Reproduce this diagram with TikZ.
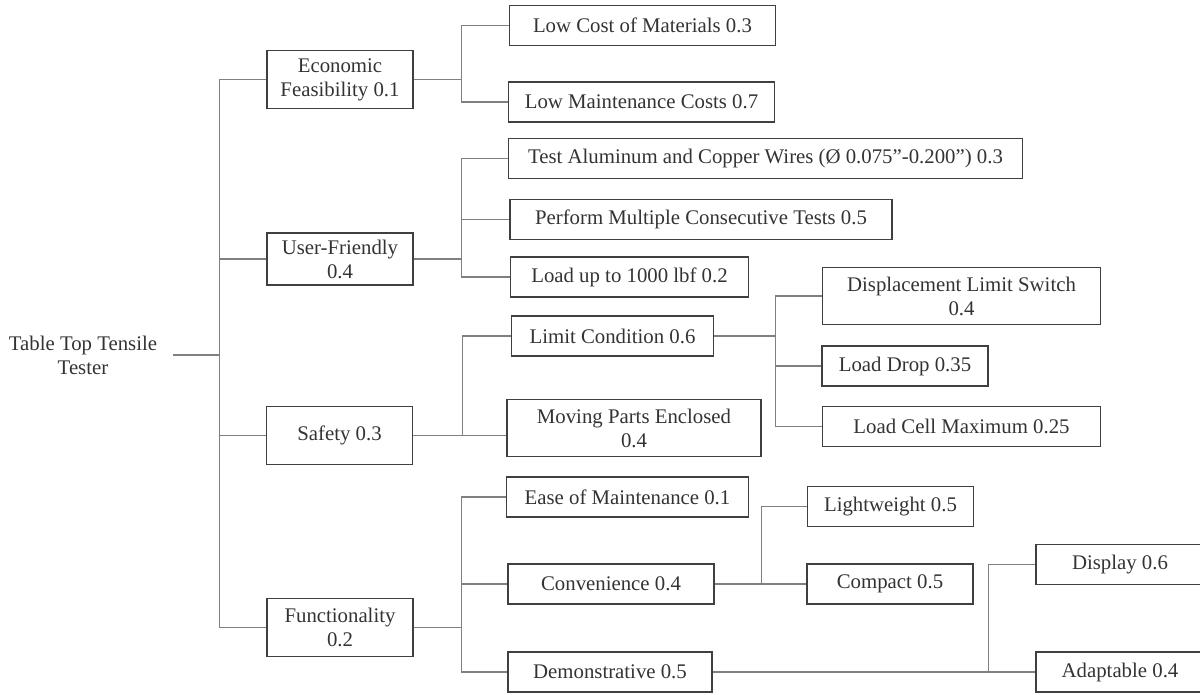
\documentclass[tikz,border=0pt]{standalone}
\usepackage{fontspec}
\setmainfont{Liberation Serif}
\usepackage{tikz}

\begin{document}
\begin{tikzpicture}[x=0.75pt, y=-0.75pt,
    every node/.style={font=\fontsize{15.6}{18}\selectfont, text=black!80},
    box/.style={draw=black!75, line width=0.9pt, minimum height=30pt, inner sep=0pt, align=center},
    tall/.style={box, minimum height=43pt},
    link/.style={draw=black!50, line width=0.9pt}]
    \useasboundingbox (0,0) rectangle (1200,694);
    \node [align=center, inner xsep=12pt] (root) at (83,355) {Table Top Tensile\\Tester};
    % first level
    \node [tall, minimum width=109.5pt] (econ) at (340,79.5) {Economic\\Feasibility 0.1};
    \node [tall, minimum width=109.5pt, minimum height=39pt] (user) at (340,259) {User-Friendly\\0.4};
    \node [tall, minimum width=110pt] (safety) at (339.5,435.5) {Safety 0.3};
    \node [tall, minimum width=109.5pt, minimum height=44pt] (func) at (340,627.5) {Functionality\\0.2};
    % second level
    \node [box, minimum width=200pt] (lowcost) at (642.5,25.5) {Low Cost of Materials 0.3};
    \node [box, minimum width=200pt] (lowmaint) at (641.5,102) {Low Maintenance Costs 0.7};
    \node [box, minimum width=386pt] (wires) at (765.5,158.5) {Test Aluminum and Copper Wires (Ø 0.075”-0.200”) 0.3};
    \node [box, minimum width=286.5pt] (tests) at (701,219.5) {Perform Multiple Consecutive Tests 0.5};
    \node [box, minimum width=179pt] (load) at (629.5,277) {Load up to 1000 lbf 0.2};
    \node [box, minimum width=152pt] (limit) at (612.5,336) {Limit Condition 0.6};
    \node [tall, minimum width=190.5pt] (moving) at (634,428) {Moving Parts Enclosed\\0.4};
    \node [box, minimum width=182pt] (ease) at (627.5,497) {Ease of Maintenance 0.1};
    \node [box, minimum width=154.5pt] (conv) at (611,584) {Convenience 0.4};
    \node [box, minimum width=153pt] (demo) at (610,672) {Demonstrative 0.5};
    % third level
    \node [tall, minimum width=209pt] (disp) at (961.5,296) {Displacement Limit Switch\\0.4};
    \node [box, minimum width=124.5pt] (drop) at (905,366) {Load Drop 0.35};
    \node [box, minimum width=209pt] (cell) at (961.5,426.5) {Load Cell Maximum 0.25};
    \node [box, minimum width=124pt] (light) at (890.5,506.5) {Lightweight 0.5};
    \node [box, minimum width=124.5pt] (compact) at (890,584) {Compact 0.5};
    \node [box, minimum width=126pt] (display) at (1120,564.5) {Display 0.6};
    \node [box, minimum width=126pt] (adapt) at (1120,672) {Adaptable 0.4};
    % connectors
    \draw [link] (root.east) -- ++(46,0) |- (econ.west);
    \draw [link] (root.east) -- ++(46,0) |- (user.west);
    \draw [link] (root.east) -- ++(46,0) |- (safety.west);
    \draw [link] (root.east) -- ++(46,0) |- (func.west);
    \draw [link] (econ.east) -- ++(48,0) |- (lowcost.west);
    \draw [link] (econ.east) -- ++(48,0) |- (lowmaint.west);
    \draw [link] (user.east) -- ++(48,0) |- (wires.west);
    \draw [link] (user.east) -- ++(48,0) |- (tests.west);
    \draw [link] (user.east) -- ++(48,0) |- (load.west);
    \draw [link] (safety.east) -- ++(49,0) |- (limit.west);
    \draw [link] (safety.east) -- (safety.east -| moving.west);
    \draw [link] (limit.east) -- ++(61,0) |- (disp.west);
    \draw [link] (limit.east) -- ++(61,0) |- (drop.west);
    \draw [link] (limit.east) -- ++(61,0) |- (cell.west);
    \draw [link] (func.east) -- ++(48,0) |- (ease.west);
    \draw [link] (func.east) -- ++(48,0) |- (conv.west);
    \draw [link] (func.east) -- ++(48,0) |- (demo.west);
    \draw [link] (conv.east) -- ++(47,0) |- (light.west);
    \draw [link] (conv.east) -- (compact.west);
    \draw [link] (demo.east) -- ++(276,0) |- (display.west);
    \draw [link] (demo.east) -- (adapt.west);
  \end{tikzpicture}
\end{document}
